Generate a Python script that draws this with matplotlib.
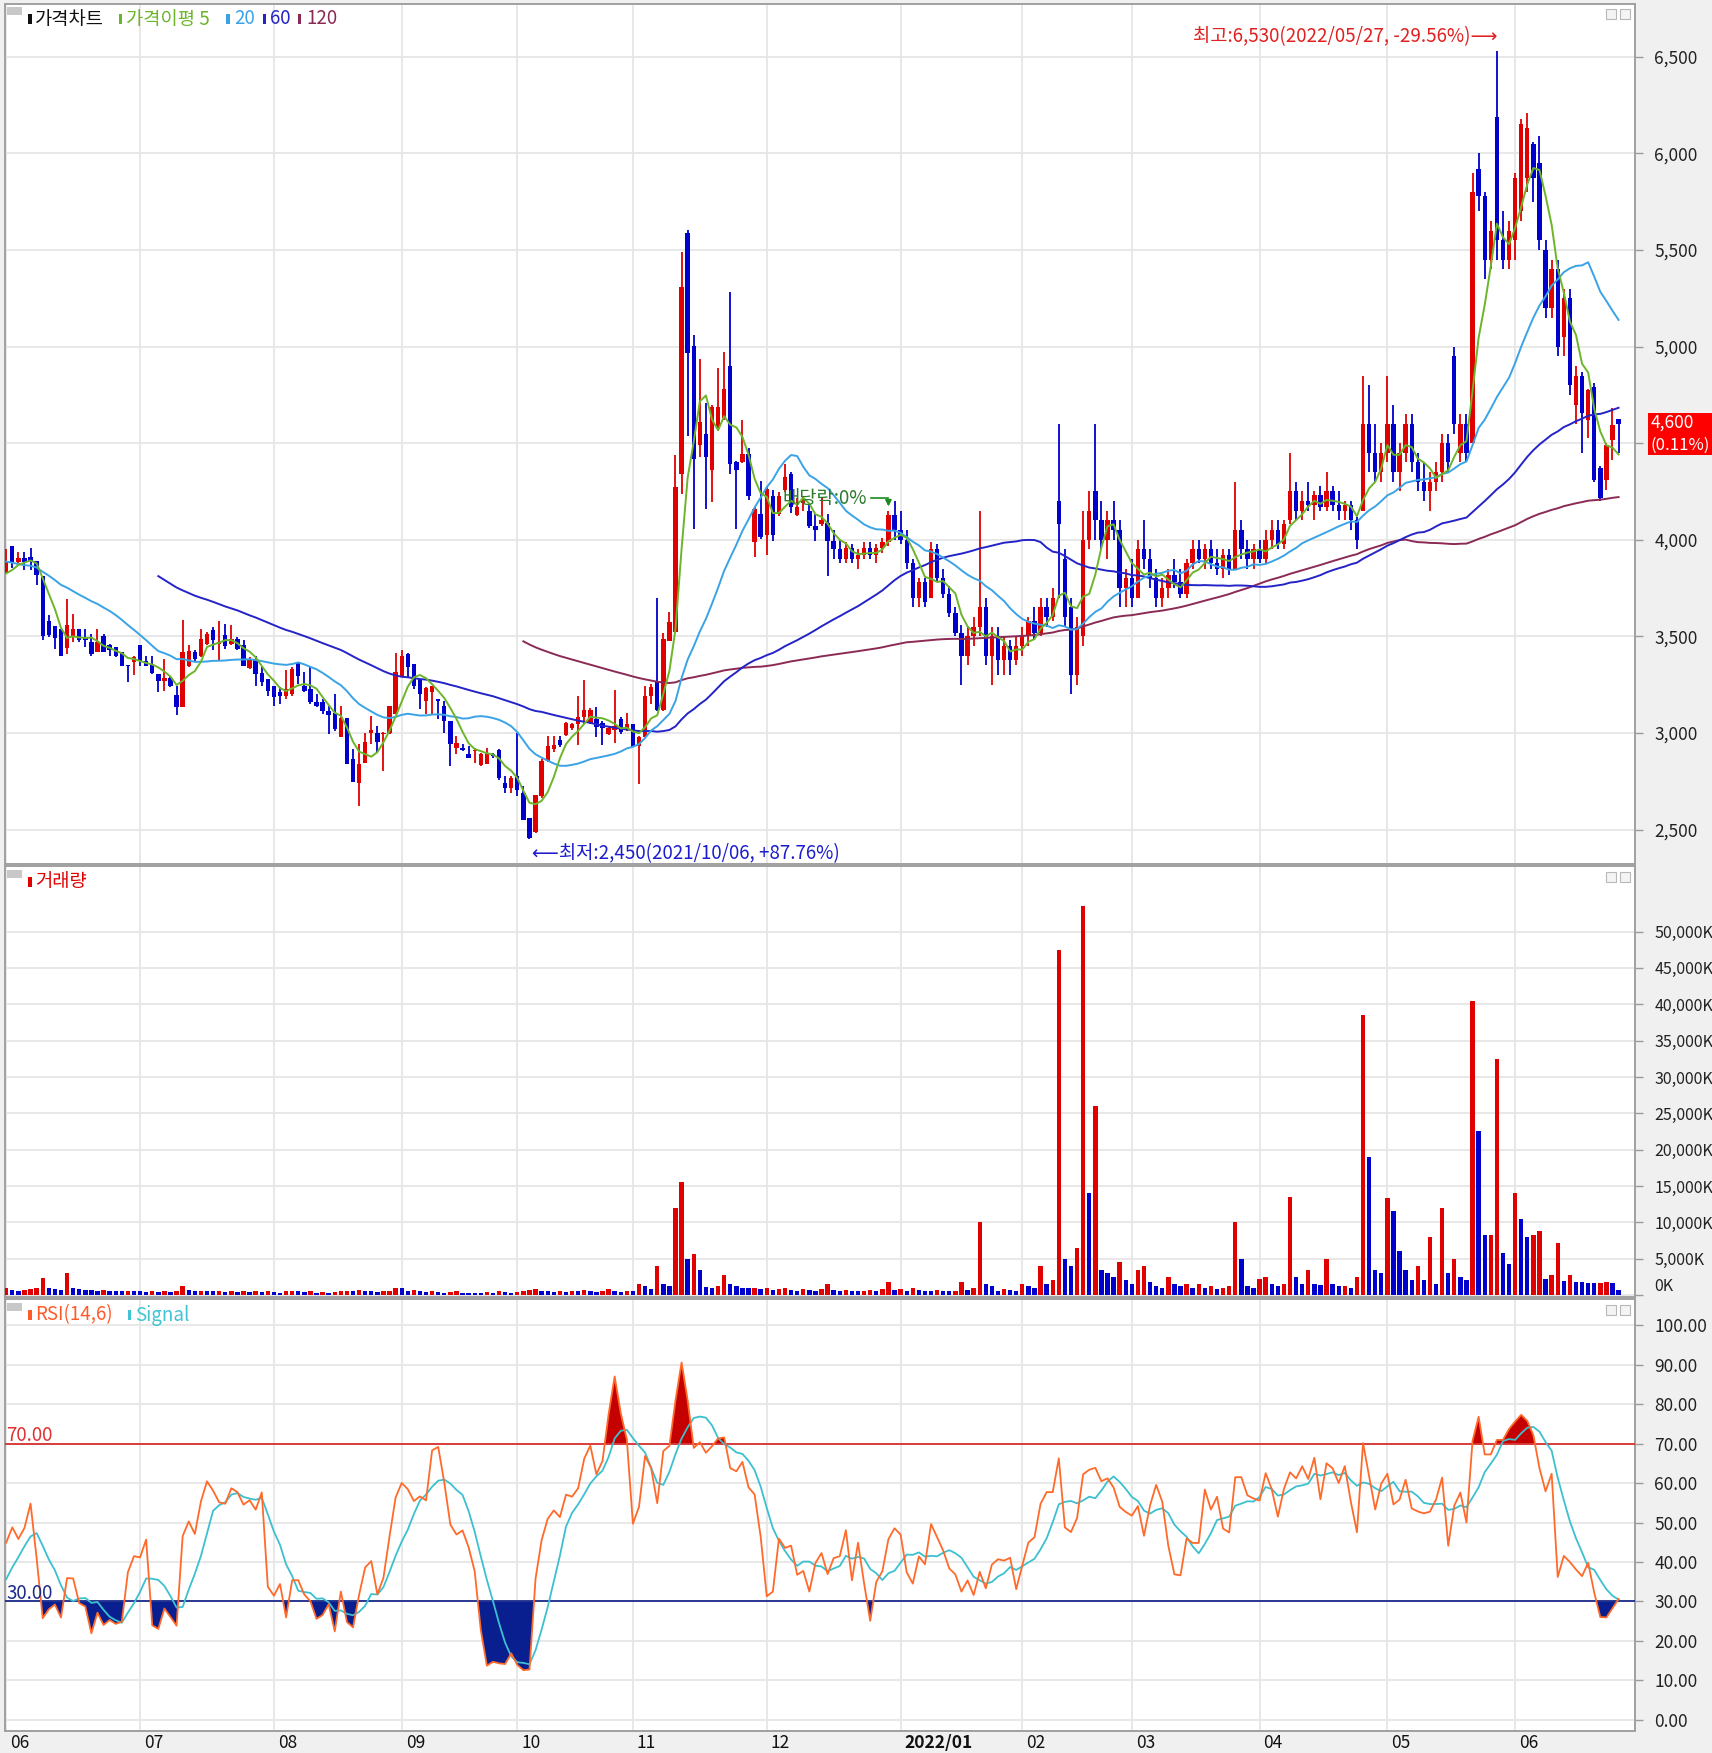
import numpy as np
import pandas as pd
import matplotlib
matplotlib.use("Agg")
import matplotlib.pyplot as plt
from matplotlib.patches import Rectangle

plt.rcParams["font.family"] = ["Noto Sans CJK KR", "DejaVu Sans"]

# ------------------------------------------------------------
# data (daily, 2021/06/01 .. 2022/06/28), prices in KRW, volume in K shares
# ------------------------------------------------------------
MONTH_LABELS = ["06", "07", "08", "09", "10", "11", "12", "2022/01", "02", "03", "04", "05", "06"]
MONTH_START = [0, 22, 44, 65, 84, 103, 125, 147, 167, 185, 206, 227, 248]

# closes before the visible window (needed for MA / RSI warm-up)
PRE_CLOSE = [4450, 4400, 4350, 4300, 4250, 4200, 4150, 4100, 4150, 4200, 4150, 4100, 4050, 4100, 4150,
             4000, 4050, 4000, 3950, 4000, 3950, 3900, 3950, 3900, 3850, 3900, 3850, 3800, 3760, 3750,
             3797, 3778, 3827, 3837]

OPEN = [
    3835, 3969, 3887, 3908, 3913, 3891, 3814, 3578, 3554, 3540, 3439, 3502, 3540, 3497, 3470, 3418, 3502, 3453, 3444, 3418, 3352, 3366,
    3453, 3375, 3358, 3305, 3271, 3283, 3196, 3137, 3349, 3418, 3401, 3462, 3531, 3462, 3505, 3462, 3484, 3453, 3335, 3383, 3310, 3279,
    3245, 3210, 3193, 3201, 3366, 3245, 3227, 3158, 3162, 3115, 3106, 2981, 3080, 2863, 2741, 2846, 3002, 3002, 2993, 3002, 3097,
    3297, 3410, 3358, 3280, 3167, 3214, 3172, 3141, 3062, 2924, 2924, 2889, 2906, 2833, 2840, 2889, 2911, 2741, 2715,
    2776, 2689, 2560, 2490, 2672, 2854, 2915, 2962, 2992, 3025, 3044, 3083, 3054, 3073, 3050, 2996, 3015, 3073, 3015,
    3044, 2935, 2977, 3189, 3269, 3121, 3477, 3525, 4342, 5588, 5002, 4492, 4550, 4362, 4573, 4631, 4900, 4400, 4400, 4442, 3987, 4135,
    4025, 4227, 4131, 4256, 4339, 4127, 4192, 4150, 4073, 4083, 4089, 3996, 3950, 3900, 3960, 3900, 3920, 3960, 3920, 3960, 3990, 4130,
    4050, 4000, 3880, 3700, 3780, 3700, 3950, 3800, 3720, 3620, 3520, 3400, 3500, 3550, 3650, 3400, 3500, 3380, 3450, 3380,
    3450, 3500, 3580, 3520, 3650, 3600, 4200, 3900, 3650, 3300, 3500, 4000, 4250, 4100, 4000, 4100, 4050, 3750,
    3800, 3700, 3950, 3900, 3800, 3700, 3750, 3820, 3780, 3720, 3880, 3950, 3900, 3950, 3880, 3850, 3920, 3850, 4050, 3950, 3900,
    3950, 3900, 4000, 4050, 3980, 4100, 4250, 4150, 4200, 4180, 4230, 4170, 4250, 4180, 4150, 4180, 4100, 4150, 4600, 4450, 4350,
    4450, 4600, 4350, 4450, 4600, 4400, 4300, 4250, 4300, 4350, 4500, 4950, 4450, 4600, 4500, 5920, 5780, 5450, 6190, 5550, 5450,
    5550, 5700, 5870, 6050, 5950, 5500, 5200, 5400, 5050, 5250, 4700, 4850, 4620, 4792, 4370, 4310, 4517, 4625,
]
HIGH = [
    3953, 3970, 3939, 3935, 3960, 3891, 3814, 3609, 3554, 3540, 3696, 3618, 3540, 3540, 3514, 3540, 3510, 3462, 3444, 3418, 3352, 3401,
    3453, 3401, 3401, 3305, 3384, 3297, 3245, 3583, 3453, 3432, 3540, 3522, 3549, 3578, 3566, 3557, 3496, 3479, 3392, 3401, 3349, 3279,
    3245, 3236, 3328, 3340, 3370, 3314, 3349, 3201, 3175, 3141, 3201, 3141, 3080, 2915, 2941, 3002, 3089, 3037, 3005, 3141, 3415,
    3427, 3413, 3358, 3280, 3236, 3245, 3172, 3167, 3062, 2985, 2945, 2932, 2920, 2898, 2924, 2898, 2915, 2776, 2776,
    3002, 2724, 2560, 2680, 2863, 2985, 2985, 2985, 3055, 3050, 3189, 3275, 3130, 3135, 3060, 3035, 3223, 3083, 3102,
    3044, 2985, 3242, 3256, 3698, 3515, 3627, 4439, 5487, 5602, 5058, 4938, 4708, 4698, 4890, 4973, 5285, 4410, 4621, 4477, 4169, 4304,
    4275, 4256, 4246, 4390, 4350, 4217, 4227, 4180, 4131, 4217, 4131, 4050, 4000, 3990, 3980, 3950, 3990, 3990, 3980, 4010, 4150, 4200,
    4150, 4050, 3900, 3800, 3800, 3990, 3980, 3850, 3760, 3650, 3560, 3550, 3600, 4150, 3700, 3550, 3550, 3500, 3480, 3500,
    3550, 3600, 3650, 3700, 3700, 3750, 4600, 3950, 3700, 3600, 4150, 4250, 4600, 4200, 4150, 4200, 4100, 3850,
    3900, 4000, 4100, 3950, 3850, 3800, 3850, 3900, 3850, 3900, 4000, 4000, 3980, 4000, 3950, 3950, 3950, 4300, 4100, 4000, 3980,
    4000, 4050, 4100, 4100, 4100, 4450, 4300, 4250, 4300, 4250, 4280, 4350, 4280, 4250, 4200, 4200, 4120, 4850, 4800, 4600, 4500,
    4850, 4700, 4500, 4650, 4650, 4450, 4400, 4350, 4400, 4550, 4550, 5000, 4650, 4650, 5900, 6000, 5800, 5650, 6530, 5700, 5650,
    5900, 6180, 6210, 6060, 6090, 5550, 5450, 5450, 5300, 5300, 4900, 4870, 4780, 4810, 4380, 4500, 4681, 4625,
]
LOW = [
    3826, 3852, 3878, 3844, 3844, 3766, 3479, 3497, 3436, 3401, 3411, 3470, 3470, 3444, 3398, 3418, 3418, 3401, 3392, 3349, 3266, 3300,
    3349, 3349, 3305, 3214, 3219, 3236, 3092, 3137, 3340, 3366, 3392, 3457, 3427, 3375, 3436, 3453, 3432, 3349, 3331, 3245, 3245, 3193,
    3141, 3149, 3175, 3193, 3253, 3210, 3149, 3132, 3097, 2993, 3010, 2981, 2837, 2745, 2623, 2846, 2941, 2898, 2802, 2995, 3097,
    3297, 3288, 3227, 3123, 3097, 3097, 3071, 3002, 2828, 2889, 2906, 2872, 2846, 2828, 2837, 2872, 2758, 2689, 2689,
    2672, 2550, 2450, 2481, 2663, 2850, 2900, 2930, 2985, 3015, 2939, 3044, 3044, 2977, 2939, 2990, 2948, 2996, 3012,
    2929, 2737, 2977, 3150, 3112, 3112, 3477, 3515, 4237, 4535, 4058, 4429, 4160, 4198, 4563, 4621, 4342, 4058, 4396, 4208, 3910, 4006,
    3923, 3996, 4121, 4246, 4140, 4121, 4150, 4063, 3996, 4073, 3814, 3900, 3880, 3880, 3880, 3850, 3900, 3900, 3880, 3930, 3970, 4000,
    3980, 3850, 3650, 3650, 3650, 3700, 3780, 3700, 3600, 3500, 3250, 3350, 3450, 3500, 3350, 3250, 3300, 3300, 3300, 3350,
    3400, 3450, 3480, 3500, 3550, 3580, 3700, 3550, 3200, 3250, 3450, 3950, 4000, 3950, 3900, 4000, 3650, 3650,
    3650, 3700, 3850, 3750, 3650, 3650, 3700, 3750, 3700, 3700, 3850, 3880, 3850, 3850, 3820, 3800, 3820, 3850, 3900, 3850, 3850,
    3880, 3880, 3950, 3950, 3950, 4080, 4100, 4100, 4150, 4100, 4150, 4150, 4150, 4100, 4100, 4050, 3950, 4150, 4350, 4300, 4300,
    4400, 4300, 4250, 4400, 4350, 4250, 4200, 4150, 4250, 4300, 4350, 4550, 4400, 4400, 4500, 5700, 5350, 5400, 5450, 5400, 5400,
    5450, 5650, 5800, 5750, 5500, 5150, 5150, 4950, 4950, 4750, 4600, 4450, 4525, 4300, 4200, 4258, 4413, 4448,
]
CLOSE = [
    3891, 3887, 3908, 3887, 3891, 3818, 3502, 3505, 3493, 3401, 3561, 3540, 3479, 3479, 3410, 3470, 3418, 3427, 3401, 3349, 3346, 3392,
    3375, 3349, 3311, 3271, 3283, 3245, 3132, 3418, 3422, 3384, 3488, 3514, 3479, 3472, 3450, 3488, 3436, 3349, 3383, 3305, 3262, 3219,
    3184, 3193, 3227, 3332, 3297, 3219, 3158, 3141, 3115, 3092, 3019, 3080, 2837, 2745, 2837, 2953, 3015, 2953, 3002, 3141, 3314,
    3401, 3340, 3245, 3201, 3231, 3245, 3167, 3062, 2941, 2950, 2911, 2872, 2910, 2889, 2894, 2880, 2767, 2715, 2767,
    2706, 2550, 2455, 2680, 2854, 2932, 2939, 2939, 3050, 3044, 3083, 3121, 3121, 3031, 3025, 3025, 3035, 3006, 3044,
    2929, 2981, 3189, 3237, 3121, 3487, 3573, 4275, 5308, 4967, 4419, 4612, 4429, 4688, 4688, 4781, 4390, 4362, 4442, 4227, 4160, 4016,
    4265, 4025, 4227, 4323, 4169, 4169, 4200, 4073, 4050, 4102, 3996, 3950, 3900, 3960, 3900, 3920, 3960, 3920, 3960, 3990, 4130, 4050,
    4000, 3880, 3700, 3780, 3680, 3950, 3800, 3720, 3620, 3520, 3400, 3500, 3550, 3650, 3400, 3500, 3380, 3450, 3380, 3450,
    3500, 3580, 3520, 3650, 3600, 3700, 4080, 3600, 3300, 3550, 4000, 4150, 4100, 4000, 4100, 4050, 3750, 3800,
    3700, 3950, 3900, 3800, 3700, 3750, 3820, 3780, 3720, 3880, 3950, 3900, 3950, 3880, 3850, 3920, 3850, 4050, 3950, 3900, 3950,
    3900, 4000, 4050, 3980, 4080, 4250, 4150, 4200, 4180, 4230, 4170, 4250, 4180, 4150, 4180, 4100, 4000, 4600, 4450, 4350, 4450,
    4600, 4350, 4450, 4600, 4400, 4300, 4250, 4300, 4350, 4500, 4400, 4600, 4600, 4450, 5800, 5780, 5450, 5600, 5550, 5450, 5600,
    5870, 6150, 6130, 5870, 5550, 5200, 5400, 5000, 5250, 4800, 4850, 4655, 4775, 4310, 4215, 4490, 4595, 4600,
]
VOLUME_K = [
    900, 700, 600, 700, 800, 1000, 2400, 900, 800, 700, 3000, 900, 800, 700, 700, 600, 700, 600, 600, 500, 600, 500,
    500, 400, 500, 400, 500, 400, 600, 1200, 700, 500, 600, 500, 500, 600, 400, 500, 400, 500, 400, 500, 400, 500,
    400, 300, 500, 600, 500, 400, 500, 300, 400, 300, 400, 500, 600, 500, 700, 600, 500, 400, 500, 600, 1000,
    900, 600, 700, 500, 400, 500, 400, 300, 400, 600, 300, 300, 300, 300, 400, 300, 500, 400, 300,
    400, 600, 700, 800, 600, 500, 400, 500, 400, 600, 500, 700, 600, 400, 500, 800, 500, 400, 600,
    600, 1500, 1200, 800, 4000, 1500, 1200, 12000, 15500, 5000, 5700, 3400, 1100, 1000, 1200, 2800, 1500, 1200, 1000, 900, 1000, 800,
    900, 700, 800, 900, 700, 600, 800, 700, 600, 800, 1500, 700, 600, 700, 600, 500, 600, 700, 600, 800, 1800, 700,
    800, 600, 900, 700, 600, 500, 700, 600, 500, 600, 1800, 700, 900, 10000, 1500, 1200, 600, 800, 700, 600,
    1500, 1200, 900, 4000, 1500, 2000, 47500, 5000, 4000, 6500, 53500, 14000, 26000, 3500, 3000, 2500, 4500, 2000,
    1500, 3500, 4000, 1800, 1200, 1000, 2500, 1500, 1200, 1500, 900, 1500, 1000, 1200, 800, 1000, 1200, 10000, 5000, 1200, 900,
    2200, 2500, 1500, 1200, 1500, 13500, 2500, 1500, 3500, 1500, 1400, 5000, 1500, 1200, 1300, 1000, 2500, 38500, 19000, 3500, 3000,
    13300, 11500, 6000, 3500, 2000, 4000, 2000, 8000, 1500, 12000, 3000, 5000, 2500, 2000, 40500, 22500, 8200, 8300, 32500, 5800, 4250,
    14000, 10400, 8000, 8200, 8800, 2200, 2750, 7100, 1950, 2750, 1800, 1750, 1650, 1600, 1650, 1800, 1650, 700,
]

PRICE_TICKS = list(range(2500, 6501, 500))
VOLUME_TICKS = list(range(0, 50001, 5000))
RSI_TICKS = list(range(0, 101, 10))

RED = "#e00000"
BLUE = "#0000cc"
GRID = "#e6e6e6"
FS = 13.5

# ------------------------------------------------------------
# derived series
# ------------------------------------------------------------
o = np.array(OPEN, float)
h = np.array(HIGH, float)
l = np.array(LOW, float)
c = np.array(CLOSE, float)
vol = np.array(VOLUME_K, float)
x = np.arange(len(c))
npre = len(PRE_CLOSE)

allc = pd.Series(PRE_CLOSE + CLOSE, dtype=float)
ma = {n: allc.rolling(n).mean().to_numpy()[npre:] for n in (5, 20, 60, 120)}
d = allc.diff()
au = d.clip(lower=0).rolling(14).mean()
ad = (-d.clip(upper=0)).rolling(14).mean()
rsi_all = 100 * au / (au + ad)
rsi = rsi_all.to_numpy()[npre:]
sig = rsi_all.rolling(6).mean().to_numpy()[npre:]

# ------------------------------------------------------------
# figure in pixel units
# ------------------------------------------------------------
W, H = 1712, 1753
fig = plt.figure(figsize=(W / 100, H / 100), dpi=100, facecolor="#f0f0f0")


def px_axes(x0, y0, x1, y1):
    return fig.add_axes([x0 / W, 1 - y1 / H, (x1 - x0) / W, (y1 - y0) / H])


def fig_rect(x0, y0, x1, y1, color, ec="none", lw=0):
    fig.add_artist(Rectangle((x0 / W, 1 - y1 / H), (x1 - x0) / W, (y1 - y0) / H,
                             transform=fig.transFigure, facecolor=color, edgecolor=ec, lw=lw))


def fig_text(xp, yp, s, **kw):
    fig.text(xp / W, 1 - yp / H, s, **kw)


XLIM = (-0.2, 267.7)
ax_p = px_axes(5, 4, 1635, 864)
ax_v = px_axes(5, 866, 1635, 1297)
ax_r = px_axes(5, 1299, 1635, 1731)

for ax in (ax_p, ax_v, ax_r):
    ax.set_facecolor("white")
    ax.set_xlim(*XLIM)
    ax.set_xticks(MONTH_START)
    ax.tick_params(axis="x", length=0, labelbottom=False)
    ax.grid(True, color=GRID, lw=1.3)
    ax.set_axisbelow(True)
    ax.yaxis.tick_right()
    ax.tick_params(axis="y", length=6, width=1, color="#9a9a9a", pad=8,
                   labelsize=12.5, labelcolor="#222222")
    for s in ax.spines.values():
        s.set_color("#a0a0a0")
        s.set_linewidth(1.4)

# ---------------- price panel ----------------
ax_p.set_ylim(2322, 6773)
ax_p.set_yticks(PRICE_TICKS)
# the 4,500 label sits under the current-price box
ax_p.set_yticklabels(["" if v == 4500 else f"{v:,}" for v in PRICE_TICKS])

col = np.where(c >= o, RED, BLUE)
ax_p.vlines(x, l, h, colors=col, lw=1.3, zorder=3)
body_lo = np.minimum(o, c)
body_h = np.maximum(np.abs(c - o), 8)
ax_p.bar(x, body_h, 0.72, bottom=body_lo, color=col, lw=0, zorder=4)

ax_p.plot(x, ma[120], color="#8b2a55", lw=1.4, zorder=5)
ax_p.plot(x, ma[60], color="#2323c8", lw=1.4, zorder=5)
ax_p.plot(x, ma[20], color="#3aa3e6", lw=1.4, zorder=5)
ax_p.plot(x, ma[5], color="#6cb52a", lw=1.4, zorder=6)

imax = int(np.argmax(h))
imin = int(np.argmin(l))
hi_pct = (c[-1] / h[imax] - 1) * 100
lo_pct = (c[-1] / l[imin] - 1) * 100
ax_p.annotate(f"최고:{h[imax]:,.0f}(2022/05/27, {hi_pct:.2f}%)⟶", xy=(imax, h[imax]),
              xytext=(0, 10), textcoords="offset points", ha="right", va="center",
              color="#e02020", fontsize=FS, zorder=7)
ax_p.annotate(f"⟵최저:{l[imin]:,.0f}(2021/10/06, +{lo_pct:.2f}%)", xy=(imin, l[imin]),
              xytext=(2, -10), textcoords="offset points", ha="left", va="center",
              color="#1c1ccc", fontsize=FS, zorder=7)

# ex-dividend marker
iex = 145
ax_p.annotate("", xy=(iex, h[iex] + 8), xytext=(iex, h[iex] + 65),
              arrowprops=dict(arrowstyle="-|>", color="#1a8a1a", lw=1.2, mutation_scale=9), zorder=7)
ax_p.plot([iex - 2.8, iex], [h[iex] + 65, h[iex] + 65], color="#1a8a1a", lw=1.2, zorder=7)
ax_p.text(iex - 3.6, h[iex] + 65, "배당락:0%", ha="right", va="center", color="#2a7a2a",
          fontsize=FS, zorder=7)

# current price box
fig_rect(1648, 413, 1712, 455, "#ff0000")
fig_text(1651, 423, f"{c[-1]:,.0f}", color="white", fontsize=12.5, va="center", ha="left")
fig_text(1651, 445, f"({(c[-1] / c[-2] - 1) * 100:.2f}%)", color="white", fontsize=12,
         va="center", ha="left")

# ---------------- volume panel ----------------
ax_v.set_ylim(-275, 59025)
ax_v.set_yticks(VOLUME_TICKS)
ax_v.set_yticklabels([f"{v:,}K" for v in VOLUME_TICKS])
ax_v.tick_params(axis="y", labelsize=11.5)
ax_v.get_yticklabels()[0].set_verticalalignment("bottom")
vcol = [RED] + [RED if vol[i] > vol[i - 1] else BLUE for i in range(1, len(vol))]
ax_v.bar(x, vol, 0.72, color=vcol, lw=0, zorder=3)

# ---------------- RSI panel ----------------
ax_r.set_ylim(-2.8, 106.6)
ax_r.set_yticks(RSI_TICKS)
ax_r.set_yticklabels([f"{v:.2f}" for v in RSI_TICKS])
ax_r.fill_between(x, rsi, 70, where=rsi >= 70, interpolate=True, color="#c40000", lw=0, zorder=3)
ax_r.fill_between(x, rsi, 30, where=rsi <= 30, interpolate=True, color="#0a1f8f", lw=0, zorder=3)
ax_r.axhline(70, color="#d83030", lw=1.3, zorder=4)
ax_r.axhline(30, color="#1a2a8a", lw=1.3, zorder=4)
ax_r.plot(x, sig, color="#3cc0d0", lw=1.3, zorder=5)
ax_r.plot(x, rsi, color="#ff6a2a", lw=1.3, zorder=6)
ax_r.text(0.0, 70.7, "70.00", color="#e03030", fontsize=FS, va="baseline", ha="left", zorder=7)
ax_r.text(0.0, 30.7, "30.00", color="#1a2a8a", fontsize=FS, va="baseline", ha="left", zorder=7)


# ---------------- legends / icons ----------------
def panel_legend(ytop, items):
    fig_rect(7, ytop + 3, 22, ytop + 11, "#c8c8c8")
    for xb, color, label, xt in items:
        fig_rect(xb, ytop + 10, xb + 3.5, ytop + 20, color)
        fig_text(xt, ytop + 15, label, color=color, fontsize=FS, va="center", ha="left")


panel_legend(4, [(28.5, "#111111", "가격차트", 35),
                 (118.5, "#6cb52a", "가격이평 5", 126),
                 (226.5, "#3aa3e6", "20", 234),
                 (262.5, "#2323c8", "60", 270),
                 (297.5, "#8b2a55", "120", 306)])
panel_legend(867, [(28.5, "#e00000", "거래량", 35)])
panel_legend(1300, [(28.5, "#ff5a2a", "RSI(14,6)", 35),
                    (128, "#40c4d4", "Signal", 135)])

for ytop in (4, 867, 1300):
    for xi in (1606, 1620):
        fig_rect(xi, ytop + 5, xi + 10, ytop + 15, "#f4f4f4", ec="#b8b8b8", lw=0.8)

# ---------------- month labels ----------------
for i, lab in zip(MONTH_START, MONTH_LABELS):
    xpx = 6.2 + 6.084 * i
    fig_text(xpx + 4, 1743, lab, fontsize=12.5, va="center", ha="left",
             color="#111111", fontweight="bold" if "/" in lab else "normal")

fig.savefig("out.png", dpi=100, facecolor=fig.get_facecolor())
